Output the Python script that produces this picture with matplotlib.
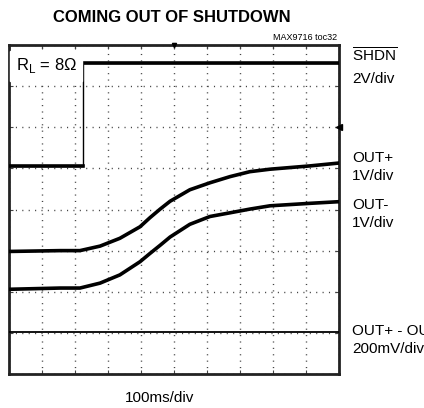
import matplotlib.pyplot as plt
import numpy as np

# trace values in divisions (x: 0..10, y: 0..8 from bottom)
shdn_t = [0.0, 2.23, 2.23, 10.0]
shdn_v = [5.05, 5.05, 7.57, 7.57]

out_t = [0.0, 1.55, 2.15, 2.76, 3.36, 3.97, 4.27, 4.58, 4.88, 5.48, 6.09,
         6.70, 7.30, 7.91, 9.12, 10.0]
out_plus = [2.98, 3.00, 3.00, 3.11, 3.30, 3.58, 3.80, 4.01, 4.20, 4.48, 4.65,
            4.80, 4.92, 4.98, 5.06, 5.13]
out_minus = [2.06, 2.09, 2.09, 2.21, 2.41, 2.73, 2.93, 3.13, 3.33, 3.64, 3.83,
             3.92, 4.01, 4.09, 4.15, 4.19]

diff_t = [0.0, 10.0]
diff_v = [1.03, 1.03]

ch_labels = ["2V/div", "OUT+\n1V/div", "OUT-\n1V/div", "OUT+ - OUT-\n200mV/div"]

plt.rcParams["font.family"] = ["Liberation Sans", "DejaVu Sans"]

fig = plt.figure(figsize=(4.24, 4.08), dpi=100)
ax = fig.add_axes([9 / 424, 34 / 408, 330 / 424, 329 / 408])

ax.set_xlim(0, 10)
ax.set_ylim(0, 8)
ax.set_xticks(np.arange(0, 11, 1))
ax.set_yticks(np.arange(0, 9, 1))
ax.set_xticklabels([])
ax.set_yticklabels([])
ax.tick_params(direction="in", length=3, width=0.8, color="#444444",
               top=True, right=True)
ax.grid(True, color="#444444", linestyle=(0, (0.8, 3.8)), linewidth=1.0)
for s in ax.spines.values():
    s.set_linewidth(2.0)
    s.set_color("#222222")

# traces
ax.plot(shdn_t, shdn_v, color="black", lw=1.0, zorder=3)
ax.plot(shdn_t[:2], shdn_v[:2], color="black", lw=2.6, zorder=3)
ax.plot(shdn_t[2:], shdn_v[2:], color="black", lw=2.6, zorder=3)
ax.plot(out_t, out_plus, color="black", lw=2.6, zorder=3, solid_joinstyle="round")
ax.plot(out_t, out_minus, color="black", lw=2.6, zorder=3, solid_joinstyle="round")
ax.plot(diff_t, diff_v, color="black", lw=1.3, zorder=3)

# trigger / ground markers
ax.plot([5], [8], marker="v", color="black", ms=3, clip_on=False, zorder=4)
ax.plot([10], [6], marker="<", color="black", ms=4, clip_on=False, zorder=4)

ax.text(0.2, 7.5, r"R$_\mathregular{L}$ = 8Ω", fontsize=12, va="center",
        ha="left", backgroundcolor="white", zorder=5)

fig.text(172 / 424, 1 - 18 / 408, "COMING OUT OF SHUTDOWN", fontsize=12,
         fontweight="bold", ha="center", va="center")
fig.text(337 / 424, 1 - 37 / 408, "MAX9716 toc32", fontsize=6.5,
         ha="right", va="center")

fs = 11
fig.text(352 / 424, 1 - 62 / 408, r"$\overline{\mathregular{SHDN}}$", fontsize=fs,
         ha="left", va="baseline")
fig.text(352 / 424, 1 - 83 / 408, ch_labels[0], fontsize=fs, ha="left", va="baseline")
fig.text(352 / 424, 1 - 180 / 408, ch_labels[1], fontsize=fs, ha="left",
         va="baseline", linespacing=1.35)
fig.text(352 / 424, 1 - 227 / 408, ch_labels[2], fontsize=fs, ha="left",
         va="baseline", linespacing=1.35)
fig.text(352 / 424, 1 - 353 / 408, ch_labels[3], fontsize=fs, ha="left",
         va="baseline", linespacing=1.35)

fig.text(160 / 424, 1 - 402 / 408, "100ms/div", fontsize=fs, ha="center",
         va="baseline")

fig.savefig("out.png", dpi=100)
